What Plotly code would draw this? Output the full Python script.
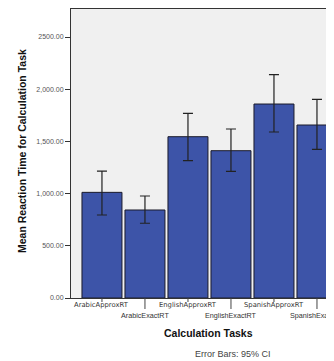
import plotly.graph_objects as go

categories = ["ArabicApproxRT", "ArabicExactRT", "EnglishApproxRT",
              "EnglishExactRT", "SpanishApproxRT", "SpanishExactRT"]
means = [1012, 843, 1545, 1411, 1858, 1657]
ci_upper = [1216, 977, 1769, 1619, 2139, 1903]
ci_lower = [795, 716, 1315, 1213, 1590, 1424]
ytick_vals = [0, 500, 1000, 1500, 2000, 2500]
ytick_text = ["0.00", "500.00", "1,000.00", "1,500.00", "2,000.00", "2500.00"]

err_plus = [u - m for u, m in zip(ci_upper, means)]
err_minus = [m - l for m, l in zip(means, ci_lower)]

# page body has an 8px default margin; compensate so the frame lands where the reference's does
OFF = 8
W, H = 334 - OFF, 361 - OFF
top_px = 9
ml, mt = 71 - OFF, top_px - OFF
plot_h = 298 - top_px
mb = H - mt - plot_h
plot_w = W - ml
ymax = 2500 * plot_h / 261.0

fig = go.Figure()
fig.add_trace(go.Bar(
    x=categories, y=means,
    marker=dict(color="#3D54A8", line=dict(color="#1a1a2a", width=1)),
    error_y=dict(type="data", symmetric=False, array=err_plus, arrayminus=err_minus,
                 color="#222222", thickness=1.2, width=5),
    showlegend=False,
))

shapes = []
annotations = []
for i, c in enumerate(categories):
    exact = i % 2 == 1
    tick_len = 11 if exact else 4
    shapes.append(dict(type="line", xref="x", yref="paper", x0=i, x1=i,
                       y0=0, y1=-tick_len / plot_h,
                       line=dict(color="#444444", width=1)))
    annotations.append(dict(
        x=i, xref="x", yref="paper",
        y=(-17 if exact else -7) / plot_h,
        text=c, showarrow=False, xanchor="center", yanchor="middle",
        font=dict(family="DejaVu Sans" if not exact else "Liberation Sans",
                  size=6.8 if not exact else 7.2, color="#333333"),
    ))

def px(xp):
    return (xp - 71) / plot_w

def py(yp):
    return (298 - yp) / plot_h

annotations.append(dict(
    text="<b>Mean Reaction Time for Calculation Task</b>", textangle=-90,
    xref="paper", yref="paper", x=px(22), y=py(151),
    showarrow=False, xanchor="center", yanchor="middle",
    font=dict(family="Liberation Sans", size=10.5, color="#111111"),
))
annotations.append(dict(
    text="<b>Calculation Tasks</b>",
    xref="paper", yref="paper", x=px(208), y=py(333),
    showarrow=False, xanchor="center", yanchor="middle",
    font=dict(family="Liberation Sans", size=10.5, color="#111111"),
))
annotations.append(dict(
    text="Error Bars: 95% CI",
    xref="paper", yref="paper", x=px(233), y=py(354),
    showarrow=False, xanchor="center", yanchor="middle",
    font=dict(family="Liberation Sans", size=9, color="#444444"),
))

fig.update_layout(
    width=W, height=H,
    margin=dict(l=ml, r=0, t=mt, b=mb, pad=0),
    paper_bgcolor="white", plot_bgcolor="#F0F0F0",
    bargap=0.07,
    shapes=shapes, annotations=annotations,
    xaxis=dict(range=[-0.72, 5.396], showticklabels=False, ticks="",
               showline=True, linecolor="#333333", linewidth=1, mirror=True,
               showgrid=False, zeroline=False, fixedrange=True),
    yaxis=dict(range=[0, ymax], tickvals=ytick_vals, ticktext=ytick_text,
               ticks="outside", ticklen=5, tickcolor="#333333",
               tickfont=dict(family="Liberation Sans", size=7, color="#555555"),
               showline=True, linecolor="#333333", linewidth=1,
               showgrid=False, zeroline=False, fixedrange=True),
)

fig.write_html("out.html")
